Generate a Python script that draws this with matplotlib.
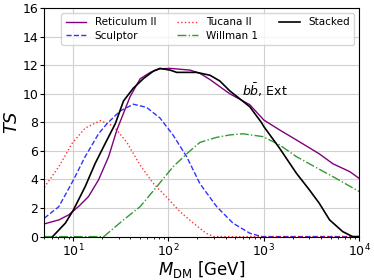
import matplotlib
matplotlib.use("Agg")
import matplotlib.pyplot as plt

# Reticulum II
ret_m = [5, 7.1, 9.0, 11.4, 14.5, 18.5, 23.6, 28.8, 39.6, 50.5, 64.5, 81.5, 104, 168, 214, 272, 345, 440, 710, 1000, 1460, 2190, 3800, 5290, 7940, 10000]
ret_ts = [0.89, 1.17, 1.52, 2.1, 2.8, 3.97, 5.6, 7.47, 9.8, 11.05, 11.5, 11.75, 11.78, 11.66, 11.43, 11.0, 10.5, 10.0, 9.24, 8.16, 7.47, 6.77, 5.8, 5.1, 4.55, 4.07]

# Stacked
stk_m = [6.1, 8.3, 10.1, 13.4, 17.1, 21.8, 27.7, 33.8, 42.9, 55, 69.8, 81.5, 104, 122, 168, 197, 272, 345, 440, 710, 940, 1000, 1460, 2190, 3000, 3800, 4880, 6700, 8500, 10000]
stk_ts = [0.0, 0.94, 1.87, 3.5, 5.14, 6.54, 7.9, 9.5, 10.4, 11.08, 11.6, 11.78, 11.66, 11.5, 11.5, 11.5, 11.3, 10.9, 10.2, 9.1, 8.0, 7.7, 6.19, 4.44, 3.27, 2.34, 1.17, 0.35, 0.0, 0.0]

# Tucana II
tuc_m = [5, 7.1, 9.8, 13.4, 19.3, 26.5, 36.6, 50.5, 69.8, 96, 132, 183, 250, 300, 10000]
tuc_ts = [3.45, 4.9, 6.54, 7.6, 8.12, 7.75, 6.6, 5.0, 3.7, 2.75, 1.75, 0.93, 0.22, 0.0, 0.0]

# Sculptor
scu_m = [5, 7.1, 10.1, 13.4, 18.5, 22.6, 31.2, 42.9, 59, 81.6, 112, 155, 214, 320, 475, 710, 950, 10000]
scu_ts = [1.29, 2.1, 3.97, 5.6, 7.2, 7.9, 8.8, 9.27, 9.05, 8.3, 7.1, 5.6, 3.7, 2.1, 0.94, 0.24, 0.0, 0.0]

# Willman 1
wil_m = [5, 21, 33.8, 50.5, 75.5, 112, 168, 214, 320, 440, 600, 980, 1460, 2190, 3800, 5290, 10000]
wil_ts = [0.0, 0.0, 1.17, 2.1, 3.5, 4.9, 6.0, 6.6, 6.95, 7.12, 7.2, 7.0, 6.42, 5.6, 4.72, 4.2, 3.15]

fig, ax = plt.subplots(figsize=(3.74, 2.8), dpi=100)
ax.plot(ret_m, ret_ts, color="purple", lw=1.0, label="Reticulum II")
ax.plot(scu_m, scu_ts, color="blue", lw=1.0, ls="--", alpha=0.8, label="Sculptor")
ax.plot(tuc_m, tuc_ts, color="red", lw=1.0, ls=":", alpha=0.8, label="Tucana II")
ax.plot(wil_m, wil_ts, color="green", lw=1.0, ls="-.", alpha=0.8, label="Willman 1")
ax.plot(stk_m, stk_ts, color="black", lw=1.2, label="Stacked")

ax.set_xscale("log")
ax.set_xlim(5, 1e4)
ax.set_ylim(0, 16)
ax.set_yticks(range(0, 17, 2))
ax.grid(True, which="major", color="#d0d0d0", lw=0.8)
ax.tick_params(which="major", labelsize=9, length=3, pad=1.5, width=0.8)
ax.tick_params(which="minor", length=1.6, width=0.6)
ax.set_xlabel(r"$M_{\rm DM}$ [GeV]", fontsize=12, labelpad=0)
ax.set_ylabel(r"$TS$", fontsize=13, labelpad=1)
ax.text(590, 10.25, r"$b\bar{b}$, Ext", fontsize=9, va="center", ha="left")
ax.legend(ncol=3, loc="upper right", fontsize=7.5, framealpha=0.8,
          handlelength=2.0, handletextpad=0.8, columnspacing=2.0,
          labelspacing=0.35, borderaxespad=0.5)
fig.subplots_adjust(left=0.1185, right=0.9607, top=0.971, bottom=0.155)
fig.savefig("out.png", dpi=100)
